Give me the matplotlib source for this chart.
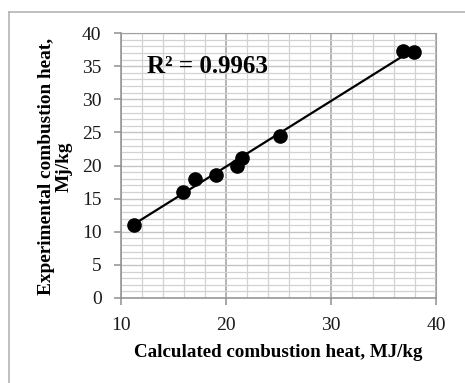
import numpy as np
import matplotlib
matplotlib.use("Agg")
from matplotlib import pyplot as plt
from matplotlib.lines import Line2D
from matplotlib.ticker import MultipleLocator

# calculated vs experimental combustion heat
calc_heat = [11.2, 15.9, 17.0, 19.0, 21.0, 21.5, 25.1, 36.9, 37.9]
exp_heat = [11.0, 16.0, 17.9, 18.6, 20.0, 21.2, 24.5, 37.3, 37.2]
r2_label = "R² = 0.9963"
x_ticks = [10, 20, 30, 40]
y_ticks = [0, 5, 10, 15, 20, 25, 30, 35, 40]

plt.rcParams['font.family'] = ['Liberation Serif', 'DejaVu Serif']

fig = plt.figure(figsize=(4.65, 3.83), dpi=100)
fig.patch.set_facecolor('white')

# outer frame (only left/top edges visible in the crop)
fx = 8.5 / 465
fy = 1 - 11.5 / 383
fig.add_artist(Line2D([fx, fx], [0, fy], color='#b4b4b4', lw=1.2))
fig.add_artist(Line2D([fx, 1], [fy, fy], color='#b4b4b4', lw=1.2))

ax = fig.add_axes([121 / 465, 1 - 298 / 383, 315 / 465, 265 / 383])

# gridlines
ax.xaxis.set_major_locator(MultipleLocator(10))
ax.xaxis.set_minor_locator(MultipleLocator(2))
ax.yaxis.set_major_locator(MultipleLocator(5))
ax.yaxis.set_minor_locator(MultipleLocator(1))
ax.grid(True, which='minor', color='#d2d2d2', lw=0.9)
ax.grid(True, which='major', axis='x', color='#a0a0a0', lw=1.1)
ax.grid(True, which='major', axis='y', color='#c4c4c4', lw=1.0)
ax.set_axisbelow(True)

# trend line (least squares)
k, b = np.polyfit(calc_heat, exp_heat, 1)
xs = np.array([min(calc_heat), max(calc_heat)])
ax.plot(xs, k * xs + b, color='black', lw=1.6, zorder=3)
ax.plot(calc_heat, exp_heat, 'o', color='black', ms=9.5, zorder=4)

ax.text(12.5, 35, r2_label, fontsize=18, fontweight='bold', va='center',
        ha='left', color='black')

ax.set_xlim(10, 40)
ax.set_ylim(0, 40)
ax.set_xticks(x_ticks)
ax.set_yticks(y_ticks)

for s in ['top', 'right']:
    ax.spines[s].set_color('#a0a0a0')
for s in ['left', 'bottom']:
    ax.spines[s].set_color('#909090')
    ax.spines[s].set_linewidth(1.1)
ax.tick_params(which='major', length=5, width=1.1, color='#909090',
               labelsize=14, pad=9, labelcolor='#1a1a1a')
ax.tick_params(which='minor', length=0)

ax.set_xlabel("Calculated combustion heat, MJ/kg", fontsize=13.7,
              fontweight='bold', va='center')
ax.xaxis.set_label_coords(0.5, -0.2075)
ax.set_ylabel("Experimental combustion heat,\nMj/kg", fontsize=13.9,
              fontweight='bold', linespacing=1.05, va='center')
ax.yaxis.set_label_coords(-0.21, 0.495)

fig.savefig("out.png", dpi=100)
